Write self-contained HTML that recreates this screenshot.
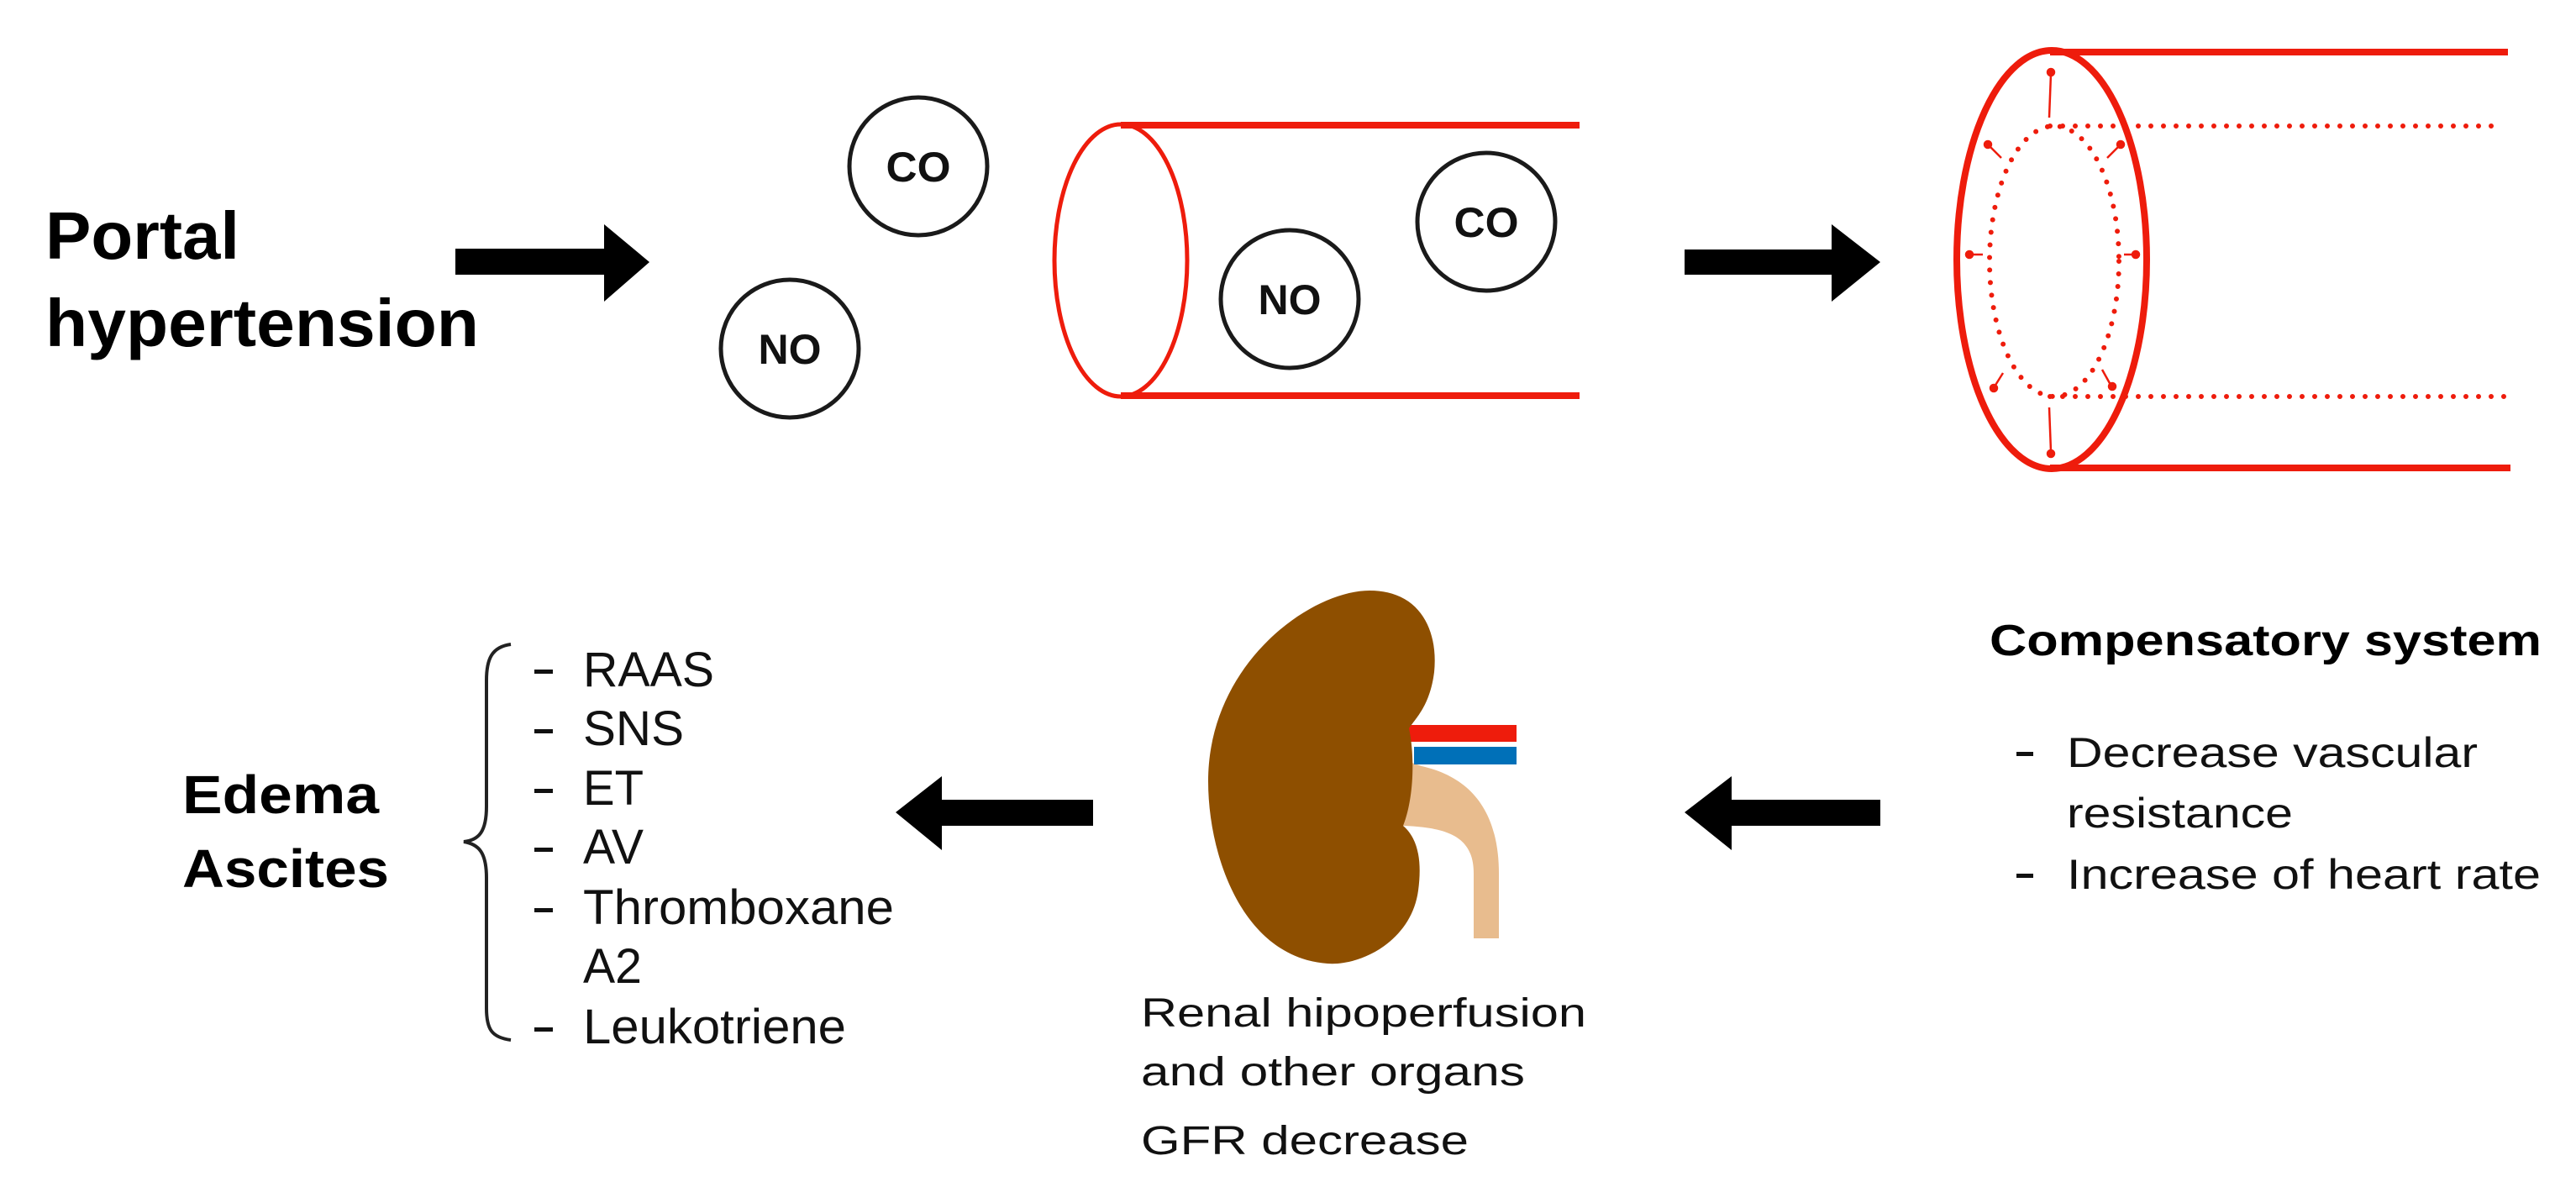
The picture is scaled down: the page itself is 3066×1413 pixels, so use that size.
<!DOCTYPE html>
<html><head><meta charset="utf-8"><style>html,body{margin:0;padding:0;background:#fff}svg{display:block}</style></head>
<body>
<svg width="3066" height="1413" viewBox="0 0 3066 1413" xmlns="http://www.w3.org/2000/svg" font-family="Liberation Sans, sans-serif">
<rect width="3066" height="1413" fill="#fff"/>
<text x="54" y="308" font-size="80" font-weight="bold" textLength="231" lengthAdjust="spacingAndGlyphs">Portal</text>
<text x="54" y="412" font-size="80" font-weight="bold" textLength="516" lengthAdjust="spacingAndGlyphs">hypertension</text>
<polygon points="542,296 719,296 719,267 773,312 719,359 719,327 542,327" fill="#000"/>
<g fill="none" stroke="#1a1a1a" stroke-width="5">
<circle cx="1093" cy="198" r="82"/>
<circle cx="940" cy="415" r="82"/>
<circle cx="1535" cy="356" r="82"/>
<circle cx="1769" cy="264" r="82"/>
</g>
<g font-size="50" font-weight="bold" text-anchor="middle" fill="#111">
<text x="1093" y="216" textLength="77" lengthAdjust="spacingAndGlyphs">CO</text>
<text x="940" y="433" textLength="75" lengthAdjust="spacingAndGlyphs">NO</text>
<text x="1535" y="374" textLength="75" lengthAdjust="spacingAndGlyphs">NO</text>
<text x="1769" y="282" textLength="77" lengthAdjust="spacingAndGlyphs">CO</text>
</g>
<ellipse cx="1334" cy="310" rx="79" ry="162" fill="none" stroke="#ee1c0c" stroke-width="5"/>
<line x1="1334" y1="149" x2="1880" y2="149" stroke="#ee1c0c" stroke-width="8"/>
<line x1="1334" y1="471" x2="1880" y2="471" stroke="#ee1c0c" stroke-width="8"/>
<polygon points="2005,297 2180,297 2180,267 2238,312 2180,359 2180,327 2005,327" fill="#000"/>
<ellipse cx="2442" cy="309" rx="113" ry="249" fill="none" stroke="#ee1c0c" stroke-width="8"/>
<line x1="2440" y1="62" x2="2985" y2="62" stroke="#ee1c0c" stroke-width="8"/>
<line x1="2440" y1="557" x2="2988" y2="557" stroke="#ee1c0c" stroke-width="8"/>
<g fill="none" stroke="#ee1c0c" stroke-width="6" stroke-linecap="round" stroke-dasharray="0 15">
<ellipse cx="2445" cy="311" rx="77" ry="161"/>
<line x1="2440" y1="150" x2="2978" y2="150"/>
<line x1="2440" y1="472" x2="2984" y2="472"/>
</g>
<g stroke="#ee1c0c" stroke-width="2.5" fill="#ee1c0c">
<line x1="2439" y1="140" x2="2441" y2="88"/><circle cx="2441" cy="86" r="4"/>
<line x1="2439" y1="485" x2="2441" y2="537"/><circle cx="2441" cy="540" r="4"/>
<line x1="2360" y1="303" x2="2346" y2="303"/><circle cx="2344" cy="303" r="4"/>
<line x1="2528" y1="303" x2="2540" y2="303"/><circle cx="2542" cy="303" r="4"/>
<line x1="2382" y1="188" x2="2368" y2="174"/><circle cx="2366" cy="172" r="4"/>
<line x1="2508" y1="188" x2="2522" y2="174"/><circle cx="2524" cy="172" r="4"/>
<line x1="2384" y1="444" x2="2374" y2="460"/><circle cx="2373" cy="462" r="4"/>
<line x1="2502" y1="440" x2="2512" y2="458"/><circle cx="2514" cy="460" r="4"/>
</g>
<text x="2368" y="780" font-size="52" font-weight="bold" textLength="657" lengthAdjust="spacingAndGlyphs">Compensatory system</text>
<g font-size="50" fill="#111">
<rect x="2400" y="895" width="20" height="5" fill="#111"/>
<text x="2460" y="913" textLength="489" lengthAdjust="spacingAndGlyphs">Decrease vascular</text>
<text x="2460" y="985" textLength="269" lengthAdjust="spacingAndGlyphs">resistance</text>
<rect x="2400" y="1040" width="20" height="5" fill="#111"/>
<text x="2460" y="1058" textLength="564" lengthAdjust="spacingAndGlyphs">Increase of heart rate</text>
</g>
<polygon points="2005,967 2061,924 2061,952 2238,952 2238,983 2061,983 2061,1012" fill="#000"/>
<!-- kidney -->
<path d="M1672,905 L1692,912 C1750,925 1784,965 1784,1040 L1784,1117 L1754,1117 L1754,1040 C1754,1000 1730,985 1670,983 Z" fill="#e8bc8e"/>
<rect x="1677" y="863" width="128" height="20" fill="#ee1c0c"/>
<rect x="1683" y="889" width="122" height="21" fill="#0070b8"/>
<path d="M1630,703 C1690,703 1712,750 1707,800 C1702,840 1685,855 1677,867 C1684,900 1683,950 1670,983 C1690,1000 1692,1030 1688,1060 C1680,1120 1620,1150 1580,1147 C1480,1140 1438,1020 1438,930 C1438,790 1560,703 1630,703 Z" fill="#8e4f00"/>
<g font-size="48" fill="#111">
<text x="1358" y="1222" textLength="530" lengthAdjust="spacingAndGlyphs">Renal hipoperfusion</text>
<text x="1358" y="1292" textLength="457" lengthAdjust="spacingAndGlyphs">and other organs</text>
<text x="1358" y="1374" textLength="390" lengthAdjust="spacingAndGlyphs">GFR decrease</text>
</g>
<polygon points="1066,967 1121,924 1121,952 1301,952 1301,983 1121,983 1121,1012" fill="#000"/>
<text x="217" y="968" font-size="64" font-weight="bold" textLength="234" lengthAdjust="spacingAndGlyphs">Edema</text>
<text x="217" y="1056" font-size="64" font-weight="bold" textLength="246" lengthAdjust="spacingAndGlyphs">Ascites</text>
<path d="M608,767 C585,770 579,785 579,810 L579,960 C579,990 570,1000 552,1002 C570,1005 579,1015 579,1045 L579,1200 C579,1225 585,1235 608,1238" fill="none" stroke="#222" stroke-width="4"/>
<g font-size="58" fill="#111">
<g fill="#111">
<rect x="636" y="797" width="22" height="5"/><rect x="636" y="868" width="22" height="5"/>
<rect x="636" y="939" width="22" height="5"/><rect x="636" y="1009" width="22" height="5"/>
<rect x="636" y="1081" width="22" height="5"/><rect x="636" y="1223" width="22" height="5"/>
</g>
<text x="694" y="817" textLength="156" lengthAdjust="spacingAndGlyphs">RAAS</text>
<text x="694" y="887" textLength="120" lengthAdjust="spacingAndGlyphs">SNS</text>
<text x="694" y="958" textLength="72" lengthAdjust="spacingAndGlyphs">ET</text>
<text x="694" y="1028" textLength="72" lengthAdjust="spacingAndGlyphs">AV</text>
<text x="694" y="1100" textLength="370" lengthAdjust="spacingAndGlyphs">Thromboxane</text>
<text x="694" y="1170" textLength="70" lengthAdjust="spacingAndGlyphs">A2</text>
<text x="694" y="1242" textLength="313" lengthAdjust="spacingAndGlyphs">Leukotriene</text>
</g>
</svg>
</body></html>
